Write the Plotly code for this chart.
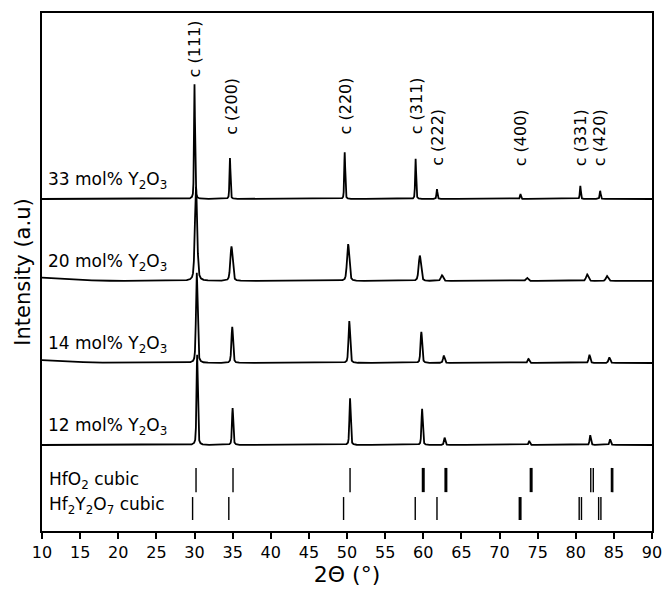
import numpy as np
import plotly.graph_objects as go

# ---------------- data ----------------
samples = ["12 mol% Y<sub>2</sub>O<sub>3</sub>", "14 mol% Y<sub>2</sub>O<sub>3</sub>",
           "20 mol% Y<sub>2</sub>O<sub>3</sub>", "33 mol% Y<sub>2</sub>O<sub>3</sub>"]
offsets = [0, 1, 2, 3]

pos_12 = [30.35, 35.0, 50.4, 59.85, 62.8, 73.9, 81.9, 84.5]
h_12 = [1.10, 0.45, 0.57, 0.44, 0.09, 0.05, 0.12, 0.07]
pos_14 = [30.3, 34.95, 50.3, 59.75, 62.7, 73.8, 81.8, 84.4]
h_14 = [1.10, 0.44, 0.51, 0.38, 0.09, 0.05, 0.10, 0.07]
pos_20 = [30.2, 34.85, 50.15, 59.55, 62.45, 73.6, 81.5, 84.1]
h_20 = [1.15, 0.42, 0.45, 0.31, 0.07, 0.04, 0.08, 0.06]
pos_33 = [30.0, 34.65, 49.7, 59.0, 61.8, 72.75, 80.6, 83.2]
h_33 = [1.40, 0.50, 0.57, 0.49, 0.12, 0.06, 0.16, 0.10]
fwhm = [0.20, 0.25, 0.35, 0.15]           # peak widths (deg) per sample
low_angle_rise = [0.0, 0.035, 0.04, 0.0]  # background at 10 deg

hkl_labels = ["c (111)", "c (200)", "c (220)", "c (311)", "c (222)", "c (400)", "c (331)", "c (420)"]
hkl_x = [30.0, 34.85, 49.75, 59.05, 61.85, 72.8, 80.65, 83.15]
hkl_y = [4.83, 4.13, 4.13, 4.13, 3.75, 3.75, 3.75, 3.75]

hfo2_sticks = [30.2, 35.05, 50.4, 60.0, 62.97, 74.15, 81.97, 82.3, 84.68, 84.85]
hf2y2o7_sticks = [29.75, 34.5, 49.55, 58.95, 61.8, 72.7, 80.45, 80.75, 83.0, 83.3]
ref_names = ["HfO<sub>2</sub> cubic", "Hf<sub>2</sub>Y<sub>2</sub>O<sub>7</sub> cubic"]

xticks = list(range(10, 95, 5))

# ---------------- build ----------------
x = np.linspace(10, 90, 16001)


def pattern(pos, h, w, rise):
    y = np.zeros_like(x)
    for p, a in zip(pos, h):
        g = np.exp(-4 * np.log(2) * ((x - p) / w) ** 2)
        l = 1.0 / (1 + 4 * ((x - p) / w) ** 2)
        y += a * (0.6 * g + 0.4 * l)
    y += rise * np.clip((22 - x) / 12, 0, 1) ** 2
    return y


pos_all = [pos_12, pos_14, pos_20, pos_33]
h_all = [h_12, h_14, h_20, h_33]

fig = go.Figure()
for i in range(4):
    y = pattern(pos_all[i], h_all[i], fwhm[i], low_angle_rise[i]) + offsets[i]
    fig.add_trace(go.Scatter(x=x, y=y, mode="lines", line=dict(color="black", width=1.8),
                             showlegend=False, hoverinfo="skip"))

# reference sticks
thick = {60.0, 62.97, 74.15, 72.7}
rows = [(hfo2_sticks, -0.28, -0.575), (hf2y2o7_sticks, -0.635, -0.915)]
for sticks, y0, y1 in rows:
    for s in sticks:
        fig.add_trace(go.Scatter(x=[s, s], y=[y0, y1], mode="lines",
                                 line=dict(color="black", width=3 if s in thick else 1.4),
                                 showlegend=False, hoverinfo="skip"))

font = "DejaVu Sans"
ann = []
for i, name in enumerate(samples):
    ann.append(dict(x=10.5, y=offsets[i] + 0.22, text=name, showarrow=False,
                    xanchor="left", yanchor="middle", font=dict(family=font, size=17, color="black")))
for name, yy in zip(ref_names, [-0.43, -0.74]):
    ann.append(dict(x=10.7, y=yy, text=name, showarrow=False,
                    xanchor="left", yanchor="middle", font=dict(family=font, size=17, color="black")))
for t, xx, yy in zip(hkl_labels, hkl_x, hkl_y):
    ann.append(dict(x=xx, y=yy, text=t, showarrow=False, textangle=-90,
                    xanchor="center", yanchor="middle",
                    font=dict(family=font, size=16, color="black")))

fig.update_layout(
    width=667, height=589,
    margin=dict(l=42, r=15, t=13, b=58),
    paper_bgcolor="white", plot_bgcolor="white",
    annotations=ann,
    xaxis=dict(range=[10, 90], tickvals=xticks, ticktext=[str(v) for v in xticks],
               ticks="outside", ticklen=6, tickwidth=1.5, tickcolor="black",
               showline=True, linecolor="black", linewidth=1.5, mirror=True,
               showgrid=False, zeroline=False, automargin=False,
               tickfont=dict(family=font, size=16, color="black"),
               title=dict(text="2Θ (°)", font=dict(family=font, size=22, color="black"), standoff=2)),
    yaxis=dict(range=[-1.049, 5.268], showticklabels=False, ticks="",
               showline=True, linecolor="black", linewidth=1.5, mirror=True,
               showgrid=False, zeroline=False, automargin=False,
               title=dict(text="Intensity (a.u)", font=dict(family=font, size=21, color="black"), standoff=4)),
)

fig.write_html("out.html")
